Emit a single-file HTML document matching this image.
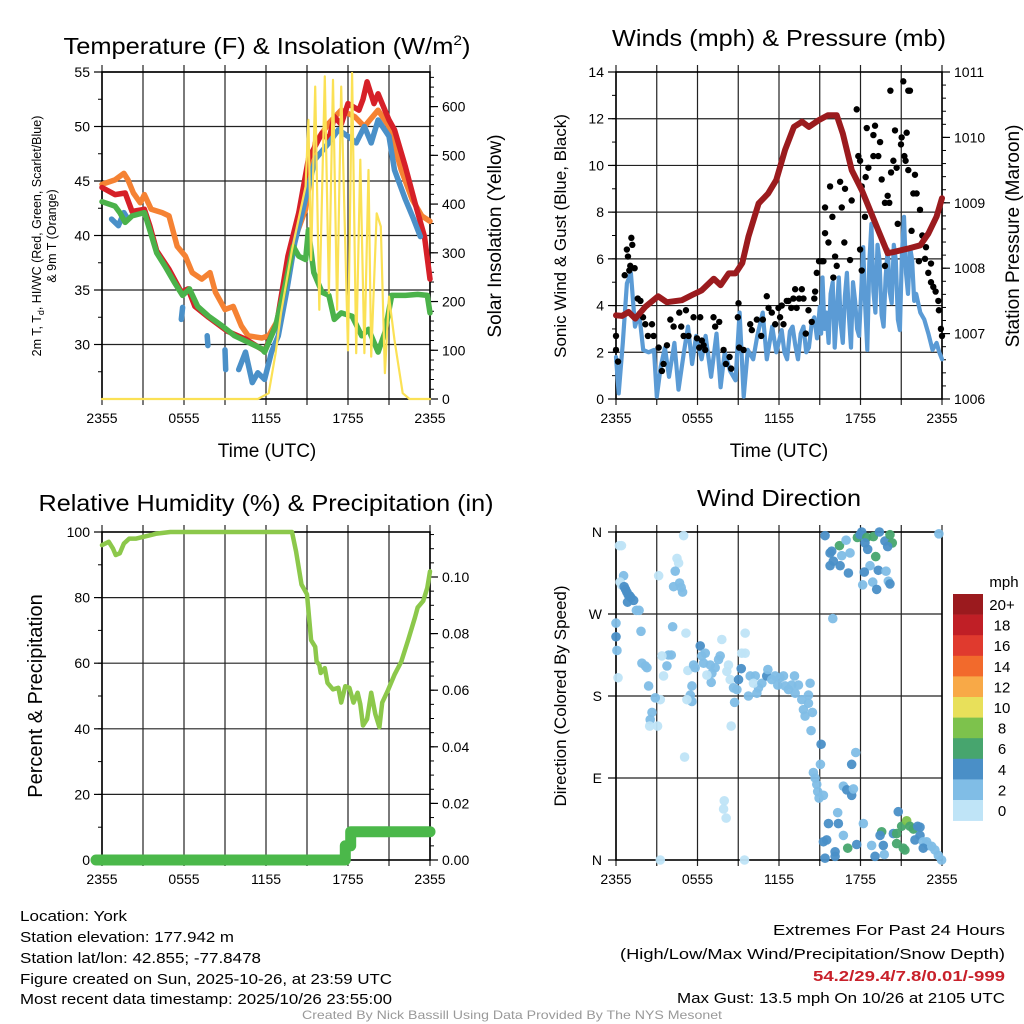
<!DOCTYPE html>
<html><head><meta charset="utf-8"><style>
html,body{margin:0;padding:0;background:#fff;}
svg{display:block;font-family:"Liberation Sans",Arial,sans-serif;}
</style></head><body>
<svg id="fig" width="1024" height="1024" viewBox="0 0 1024 1024" xmlns="http://www.w3.org/2000/svg">
<g id="texts">
<text x="267" y="54" font-size="23" text-anchor="middle" textLength="407" lengthAdjust="spacingAndGlyphs">Temperature (F) &amp; Insolation (W/m<tspan dy="-9" font-size="14">2</tspan><tspan dy="9">)</tspan></text>
<text x="779" y="46" font-size="23" text-anchor="middle" textLength="334" lengthAdjust="spacingAndGlyphs">Winds (mph) &amp; Pressure (mb)</text>
<text x="266" y="511" font-size="23" text-anchor="middle" textLength="455" lengthAdjust="spacingAndGlyphs">Relative Humidity (%) &amp; Precipitation (in)</text>
<text x="779" y="506" font-size="23" text-anchor="middle" textLength="164" lengthAdjust="spacingAndGlyphs">Wind Direction</text>
<text x="267" y="457" font-size="19" text-anchor="middle">Time (UTC)</text>
<text x="779" y="457" font-size="19" text-anchor="middle">Time (UTC)</text>
<text transform="translate(41,236) rotate(-90)" font-size="12.5" text-anchor="middle">2m T, T<tspan dy="3" font-size="9">d</tspan><tspan dy="-3">, HI/WC (Red, Green, Scarlet/Blue)</tspan></text>
<text transform="translate(56,236) rotate(-90)" font-size="12.5" text-anchor="middle">&amp; 9m T (Orange)</text>
<text transform="translate(501,236) rotate(-90)" font-size="19" text-anchor="middle">Solar Insolation (Yellow)</text>
<text transform="translate(566,236) rotate(-90)" font-size="17" text-anchor="middle">Sonic Wind &amp; Gust (Blue, Black)</text>
<text transform="translate(1019,236) rotate(-90)" font-size="19" text-anchor="middle">Station Pressure (Maroon)</text>
<text transform="translate(42,696) rotate(-90)" font-size="20" text-anchor="middle">Percent &amp; Precipitation</text>
<text transform="translate(566,696) rotate(-90)" font-size="17" text-anchor="middle">Direction (Colored By Speed)</text>
<text x="20" y="921" font-size="15" textLength="107" lengthAdjust="spacingAndGlyphs">Location: York</text>
<text x="20" y="942" font-size="15" textLength="214" lengthAdjust="spacingAndGlyphs">Station elevation: 177.942 m</text>
<text x="20" y="963" font-size="15" textLength="241" lengthAdjust="spacingAndGlyphs">Station lat/lon: 42.855; -77.8478</text>
<text x="20" y="984" font-size="15" textLength="372" lengthAdjust="spacingAndGlyphs">Figure created on Sun, 2025-10-26, at 23:59 UTC</text>
<text x="20" y="1004" font-size="15" textLength="372" lengthAdjust="spacingAndGlyphs">Most recent data timestamp: 2025/10/26 23:55:00</text>
<text x="773" y="935" font-size="15" textLength="232" lengthAdjust="spacingAndGlyphs">Extremes For Past 24 Hours</text>
<text x="620" y="959" font-size="15" textLength="385" lengthAdjust="spacingAndGlyphs">(High/Low/Max Wind/Precipitation/Snow Depth)</text>
<text x="813" y="981" font-size="15" font-weight="bold" fill="#c8202a" textLength="192" lengthAdjust="spacingAndGlyphs">54.2/29.4/7.8/0.01/-999</text>
<text x="677" y="1003" font-size="15" textLength="328" lengthAdjust="spacingAndGlyphs">Max Gust: 13.5 mph On 10/26 at 2105 UTC</text>
<text x="302" y="1019" font-size="12" fill="#999" textLength="420" lengthAdjust="spacingAndGlyphs">Created By Nick Bassill Using Data Provided By The NYS Mesonet</text>
</g>
</svg>
<script>
// ---------- DATA ----------
const xTickLabels = ["2355","0555","1155","1755","2355"];
const tempTicks = [30,35,40,45,50,55];
const solarTicks = [0,100,200,300,400,500,600];
const windTicks = [0,2,4,6,8,10,12,14];
const pressureTicks = [1006,1007,1008,1009,1010,1011];
const rhTicks = [0,20,40,60,80,100];
const precipTicks = [0.00,0.02,0.04,0.06,0.08,0.10];
const dirTickLabels = ["N","E","S","W","N"];
const dirTicks = [0,90,180,270,360];
const speedBinLabels = ["0","2","4","6","8","10","12","14","16","18","20+"];
const speedBinColors = ["#bfe4f7","#80bde6","#4a8fc7","#47a56e","#7dc24c","#e8e05a","#f8a947","#f26a2c","#e03a2e","#c01f26","#9b1a1e"];

// [hour since 2355, value]
const tempRed = [[0,44.4],[0.95,43.75],[1.7,43.9],[2.2,42.2],[3.1,42.4],[3.5,40.9],[4,38.6],[4.9,36.9],[5.8,34.8],[6.3,35.1],[6.8,33.5],[7.8,32.5],[9.2,31.2],[10.5,30.5],[11.9,29.4],[12.8,32],[13.6,38.1],[14.4,42.1],[15.1,47],[15.6,48.2],[16.1,49.4],[16.6,48.8],[17,50.9],[17.5,50.2],[18,52.1],[18.8,51.5],[19.1,52.5],[19.4,54.1],[19.9,52.1],[20.2,53],[21,50.6],[21.4,49.7],[22.2,46.3],[22.9,43],[23.6,39.9],[24,36]];
const tempOrange = [[0,44.7],[0.95,45.1],[1.6,45.7],[1.9,45.1],[2.3,43.9],[2.8,43],[3.1,43.75],[3.6,42.4],[4.4,42.1],[4.9,41.8],[5.5,39],[6.1,38.1],[6.6,36.6],[7.3,36],[7.9,36.6],[8.3,34.8],[9,33.2],[9.6,33.5],[10.2,31.7],[10.7,30.8],[11.7,30.6],[12.2,30.8],[12.9,32.3],[13.9,39],[14.9,42.4],[15.6,48.5],[16.6,50.3],[17.5,51.5],[18.5,50.9],[19.2,50],[20.2,51.5],[21,50],[21.9,46],[22.7,43.3],[23.4,41.8],[24,41.3]];
const tempGreen = [[0,43.1],[0.95,42.7],[1.3,42.1],[1.7,41.2],[2.2,41.8],[3.1,42.1],[3.5,40.5],[4,38.4],[4.6,37.2],[5.3,35.7],[5.9,34.5],[6.4,35.1],[7,33.5],[7.8,32.6],[8.8,31.7],[9.7,30.8],[10.7,30.2],[11.7,29.6],[11.9,29.3],[12.7,31.7],[13.4,35.4],[14,39],[14.4,38.1],[14.9,37.8],[15.1,40.5],[15.5,36.6],[16.1,34.8],[16.6,34.5],[17,32.3],[17.5,32.9],[18.3,32.6],[19,30.8],[19.5,31.4],[20.2,29.3],[20.7,31.1],[21.2,34.5],[22.2,34.5],[23.1,34.6],[23.8,34.5],[24,32.9]];
const tempBlueSegments = [
 [[0.7,41.5],[1.2,40.9],[1.6,42.1],[1.9,41.5]],
 [[5.8,32.3],[5.9,33.4]],
 [[7.7,30.8],[7.75,29.9]],
 [[9,29.5],[9.05,27.7]],
 [[10,27.7],[10.5,29.3],[11,26.5],[11.4,27.4],[11.9,26.8],[12.4,29.3],[12.9,30.8],[13.5,34.8],[14.1,39.3],[15,43.9],[15.6,47],[16.6,48.5],[17.3,49.7],[18,49.1],[18.6,48.5],[19.2,50],[19.7,48.5],[20.2,50.6],[21,49.1],[21.4,46],[22.2,43.3],[22.8,41.5],[23.3,39.9]]
];
const solar = [[0,0],[11.4,0],[12.2,12],[12.7,94],[13.1,176],[13.9,306],[14.9,436],[15.1,573],[15.3,285],[15.6,641],[15.9,183],[16.3,662],[16.6,217],[16.9,655],[17.2,183],[17.5,641],[18,100],[18.3,669],[18.6,94],[18.9,491],[19.2,94],[19.5,470],[19.7,87],[20.1,381],[20.4,354],[20.7,53],[21,210],[21.4,121],[22,12],[22.5,0],[24,0]];

const windSpeed = [[0,1.8],[0.2,0.24],[0.5,2.4],[0.8,4.95],[1.1,5.4],[1.4,3.1],[1.7,3.7],[2,2.1],[2.4,2.0],[2.8,2.1],[3.0,0.1],[3.3,1.4],[3.6,2.2],[3.9,0.95],[4.3,2.4],[4.6,0.4],[5,2],[5.3,3.1],[5.6,1.5],[5.9,2.7],[6.3,1.7],[6.6,2.7],[7,0.95],[7.4,2.8],[7.7,0.5],[8,2],[8.4,1.2],[8.8,0.8],[9.1,3.7],[9.4,0.1],[9.7,2.1],[10.1,1.7],[10.4,2.7],[10.8,3.7],[11.1,1.7],[11.5,3.1],[11.8,2],[12.2,2.95],[12.4,2.0],[12.6,1.7],[12.8,2.9],[13,3.1],[13.2,2.3],[13.4,1.7],[13.6,2.8],[13.8,3.1],[14,2.0],[14.2,2.2],[14.4,3.2],[14.6,3.5],[14.8,2.6],[15,3.95],[15.1,2.8],[15.2,5.2],[15.35,3.0],[15.5,3.7],[15.65,2.4],[15.8,4.5],[15.95,5.0],[16.1,2.2],[16.25,3.6],[16.4,5.2],[16.55,3.2],[16.7,2.4],[16.85,4.4],[17,5.4],[17.15,3.5],[17.3,2.2],[17.45,5.0],[17.6,4.2],[17.75,3.0],[17.9,2.7],[18.05,4.6],[18.2,6.5],[18.35,3.9],[18.5,2.1],[18.65,5.8],[18.8,7.5],[18.95,4.6],[19.1,3.7],[19.25,6.6],[19.4,5.95],[19.55,3.6],[19.7,3.1],[19.85,5.2],[20,6.4],[20.15,4.6],[20.3,4.1],[20.45,6.6],[20.6,5.95],[20.75,3.4],[20.9,2.95],[21.05,6.2],[21.2,7.8],[21.35,5.4],[21.5,4.5],[21.65,6.5],[21.8,5.95],[21.95,4.2],[22.1,4.5],[22.4,3.7],[22.7,3.4],[23,2.8],[23.3,2.1],[23.6,2.4],[23.8,2],[24,1.7]];
const windGust = [[0,2.7],[0,2.1],[0.15,1.6],[0.64,5.3],[0.8,6.4],[0.88,6.1],[0.98,5.5],[1.13,6.9],[1.2,6.6],[1.05,5.7],[1.37,5.6],[1.6,4.3],[1.8,4.2],[1.99,3.5],[2.16,3.2],[2.35,2.7],[2.65,3.2],[2.77,2.7],[3.14,2.2],[3.38,1.2],[3.5,1.5],[3.75,2.3],[4,3.4],[4.24,3.1],[4.66,3.7],[4.8,3.1],[4.98,2.7],[5.15,3.8],[5.34,2.7],[5.71,3.5],[5.96,2.6],[6.2,3.5],[6.32,2.5],[6.13,2.2],[6.45,2.3],[6.57,2.1],[7.18,3.5],[7.3,3.1],[7.6,3.3],[7.92,2.1],[8.09,1.5],[8.36,1.8],[8.48,1.3],[9.02,4.1],[8.97,3.5],[9.07,2.2],[9.39,2.1],[9.88,3.2],[10,2.95],[10.37,3.4],[10.69,2.7],[10.81,3.4],[11.1,4.4],[11.23,3.9],[11.47,3.7],[11.72,3.2],[11.96,3.9],[12.08,3.5],[12.2,4.0],[12.33,3.2],[12.57,4.2],[12.7,4.2],[12.9,3.9],[13.06,4.3],[13.19,4.7],[13.3,3.9],[13.48,4.3],[13.68,4.7],[13.8,4.3],[13.97,2.8],[14.17,3.8],[14.41,3.3],[14.6,4.3],[14.66,4.6],[14.78,5.4],[14.95,5.9],[15.15,5.9],[15.27,5.9],[15.39,8.2],[15.76,9.1],[15.93,7.8],[15.39,7.1],[15.64,6.7],[16.5,9.3],[16.62,8.2],[16.86,9.0],[17.35,8.5],[16.81,6.7],[16.13,6.1],[16.25,5.7],[16.0,5.2],[17.23,5.95],[17.72,12.4],[17.84,10.4],[17.97,10.2],[18.46,11.6],[18.58,9.9],[18.38,9.5],[18.09,9.1],[19.07,11.7],[18.95,11.3],[19.44,11.0],[18.95,10.4],[19.31,10.4],[19.56,9.4],[19.8,8.4],[20.12,8.4],[20.0,8.7],[18.33,7.8],[17.97,6.4],[18.09,5.5],[19.8,5.7],[20.2,13.2],[20.54,11.5],[20.42,10.2],[20.25,9.7],[20.66,9.9],[21.15,13.6],[21.52,13.2],[21.64,13.2],[21.4,11.4],[20.98,10.9],[21.03,11.2],[21.23,10.4],[21.32,10.2],[21.52,9.8],[22.01,9.6],[21.89,8.8],[22.13,8.8],[22.38,8.1],[20.74,7.5],[21.76,7.2],[22.55,7.0],[22.82,6.5],[22.75,6.0],[23.19,5.8],[22.3,5.9],[22.99,5.4],[23.19,5.0],[23.36,4.8],[23.53,4.6],[23.73,4.2],[23.77,3.8],[23.92,3.0],[24,2.7]];
const pressure = [[0,1007.28],[0.44,1007.27],[0.93,1007.33],[1.42,1007.23],[2.16,1007.41],[3.1,1007.57],[3.75,1007.48],[4.85,1007.51],[5.6,1007.59],[6.3,1007.66],[7.2,1007.84],[7.7,1007.74],[8.3,1007.92],[8.8,1007.92],[9.3,1008.08],[9.75,1008.48],[10.5,1008.99],[11.2,1009.14],[11.8,1009.35],[12.45,1009.81],[13.1,1010.16],[13.7,1010.24],[14.2,1010.16],[14.9,1010.26],[15.6,1010.34],[16.25,1010.34],[16.7,1010.06],[17.35,1009.5],[18.1,1009.19],[18.6,1008.94],[19.3,1008.58],[20,1008.23],[20.5,1008.25],[21.5,1008.3],[22.4,1008.35],[23,1008.53],[23.6,1008.79],[24,1009.07]];

const rh = [[0,96],[0.5,97],[0.8,95],[1.0,93],[1.3,93.5],[1.6,96.5],[2,98],[2.5,98],[3,98.5],[3.5,99],[4,99.5],[5,100],[13.9,100],[14.2,94],[14.6,84],[15.0,81],[15.3,67],[15.6,65],[15.7,60.5],[15.9,59.5],[16.0,57],[16.3,58.5],[16.5,54],[16.9,52],[17.3,52.5],[17.5,48],[17.8,53],[18.1,52.5],[18.4,48],[18.7,51],[18.9,47.5],[19.1,41],[19.4,43],[19.7,51],[20.0,44.5],[20.3,40.5],[20.5,48],[20.9,51.5],[21.4,56.5],[21.9,60.5],[22.4,67],[22.9,74],[23.1,77],[23.5,79],[23.8,83],[24,88]];
const precip = [[-0.5,0],[17.8,0],[17.8,0.005],[18.2,0.005],[18.2,0.01],[24,0.01]];

// [hour, direction deg, speed bin]
const windDir = [[0.25,345,0],[0.4,345,0],[0.56,312,1],[0.3,305,0],[0.4,302,0],[0.6,300,2],[0.7,297,2],[0.8,294,2],[0.9,291,2],[1.0,290,2],[1.1,288,2],[1.3,285,2],[0.85,283,2],[1.5,274,1],[1.7,274,1],[1.84,251,1],[0,260,1],[-0.05,245,2],[0.07,230,1],[0.15,200,0],[1.91,216,1],[2.16,213,1],[2.28,211,1],[2.4,191,1],[2.65,162,1],[2.52,154,1],[2.48,147,0],[3.06,147,0],[3.26,176,0],[2.89,178,1],[3.26,0,0],[3.14,312,0],[4.98,356,0],[4.49,331,0],[4.61,326,0],[4.36,317,1],[4.24,300,1],[4.68,304,1],[4.8,299,1],[4.9,294,1],[4.17,256,1],[5.15,249,0],[3.87,225,1],[4.07,225,1],[3.75,213,1],[3.5,202,0],[3.38,224,0],[5.29,208,0],[5.71,214,1],[5.59,191,1],[5.47,181,1],[5.59,174,1],[5.22,176,0],[5.83,211,1],[6.2,235,2],[6.32,224,1],[6.57,227,1],[6.45,216,1],[6.94,214,1],[7.06,205,1],[7.3,211,1],[7.55,220,1],[7.67,224,1],[7.79,242,0],[7.01,195,1],[6.69,203,0],[8.16,207,0],[8.28,214,0],[8.41,198,0],[8.65,189,1],[8.73,173,1],[8.48,147,0],[9.26,227,0],[9.51,227,0],[9.51,249,0],[9.22,210,2],[9.02,198,2],[8.9,187,1],[9.75,180,1],[9.88,202,1],[10.25,202,1],[10.37,183,1],[10.49,189,1],[10.12,194,0],[10.74,194,1],[11.1,202,2],[11.18,209,1],[11.47,198,1],[11.72,202,1],[11.91,192,1],[12.08,200,1],[12.33,202,1],[12.45,191,1],[12.7,187,1],[12.94,192,1],[13.14,202,1],[13.19,183,1],[13.43,192,1],[13.68,176,1],[13.8,165,1],[13.92,158,1],[14.17,181,1],[14.29,194,1],[14.17,172,1],[14.46,162,1],[14.36,142,1],[15.1,127,2],[15.05,105,1],[14.53,96,1],[14.66,90,1],[14.78,83,1],[14.85,75,1],[14.95,68,1],[15.27,71,1],[17.65,118,1],[17.35,105,2],[16.74,81,1],[16.99,77,2],[17.35,71,2],[17.48,78,1],[16.32,52,1],[15.64,40,2],[16.37,40,2],[18.21,40,1],[16.74,27,1],[15.27,20,2],[15.51,22,2],[17.72,17,2],[17.06,13,3],[16.13,9,2],[15.39,2,2],[16.13,4,2],[19.07,4,2],[19.56,31,3],[19.44,27,2],[18.82,16,1],[19.68,16,2],[19.75,6,1],[20.78,53,2],[20.42,29,2],[20.66,29,3],[21.03,37,3],[21.4,43,4],[21.64,37,3],[21.89,34,3],[22.21,37,2],[22.38,36,2],[20.66,18,3],[21.15,13,3],[21.27,11,3],[22.01,22,2],[22.38,27,2],[22.62,20,1],[22.87,20,1],[22.99,16,1],[22.62,13,2],[23.24,15,1],[23.48,11,1],[23.73,5,1],[23.97,0,1],[15.39,356,2],[15.76,337,2],[15.88,339,2],[16.0,328,2],[15.76,323,2],[16.5,323,2],[16.45,345,3],[16.62,334,1],[16.94,351,1],[17.23,337,1],[17.11,315,2],[17.77,354,3],[17.97,357,2],[18.09,360,2],[18.46,354,3],[18.95,355,3],[18.33,348,2],[18.53,341,2],[19.12,333,3],[19.39,360,2],[19.8,350,2],[20.17,357,3],[20.34,348,3],[20.0,344,2],[18.7,323,1],[19.31,318,2],[18.28,316,2],[19.88,317,1],[18.9,305,1],[20.05,306,1],[20.17,303,2],[18.16,302,1],[19.19,297,2],[15.96,265,1],[23.77,358,1],[9.46,0,0],[7.97,65,0],[7.92,56,0],[8.11,46,0],[5.05,113,0]];

// ---------- DRAWING ----------
const NS = "http://www.w3.org/2000/svg";
const svg = document.getElementById('fig');
function mk(tag, attrs, parent){const e=document.createElementNS(NS,tag);for(const k in attrs)e.setAttribute(k,attrs[k]);(parent||svg).appendChild(e);return e;}
function grp(name){const g=mk('g',{});


return g;}

const P1={x0:102,x1:430,y0:72,y1:399};
const P2={x0:616,x1:942,y0:72,y1:399};
const P3={x0:102,x1:430,y0:532,y1:860};
const P4={x0:616,x1:942,y0:532,y1:860};
function xs(p,h){return p.x0+h/24*(p.x1-p.x0);}
function ysc(p,lo,hi){return v=>p.y1-(v-lo)/(hi-lo)*(p.y1-p.y0);}

const yT=ysc(P1,25,55), yS=ysc(P1,0,671);
const yW=ysc(P2,0,14), yP=ysc(P2,1006,1011);
const yR=ysc(P3,0,100), yPr=ysc(P3,0,0.1159);
const yD=ysc(P4,0,360);

function frame(p,name,hGrid,ys){
  const g=grp(name);
  for(let i=0;i<=8;i++){const x=xs(p,i*3);
    const l=mk('line',{x1:x,x2:x,y1:p.y0-7,y2:p.y1+6,stroke:'#222','stroke-width':1.2},g);
    
    }
  hGrid.forEach(v=>{const y=ys(v);
    const l=mk('line',{x1:p.x0,x2:p.x1,y1:y,y2:y,stroke:'#222','stroke-width':1.2},g);
    
    });
  const r=mk('rect',{x:p.x0,y:p.y0,width:p.x1-p.x0,height:p.y1-p.y0,fill:'none',stroke:'#000','stroke-width':1.6},g);
  
  
  xTickLabels.forEach((t,i)=>{const tx=mk('text',{x:xs(p,i*6),y:p.y1+24,'font-size':14,'text-anchor':'middle'},g);tx.textContent=t;
    
    });
  return g;
}
function yAxis(p,side,ticks,minor,ys,fmt,name){
  const g=grp(name);
  const x=side==='L'?p.x0:p.x1, d=side==='L'?-1:1;
  minor.forEach(v=>{const y=ys(v);mk('line',{x1:x,x2:x+d*4,y1:y,y2:y,stroke:'#000','stroke-width':1},g);});
  ticks.forEach(v=>{const y=ys(v);mk('line',{x1:x,x2:x+d*8,y1:y,y2:y,stroke:'#000','stroke-width':1.2},g);
    const t=mk('text',{x:x+d*12,y:y+5,'font-size':14,'text-anchor':side==='L'?'end':'start'},g);t.textContent=fmt(v);
    
    });
}
function range(a,b,s){const r=[];for(let v=a;v<=b+1e-9;v+=s)r.push(+v.toFixed(4));return r;}
function pline(p,data,ys,color,w,name,parent){
  const pts=data.map(d=>xs(p,Math.max(0,d[0])).toFixed(1)+','+ys(d[1]).toFixed(1)).join(' ');
  const e=mk('polyline',{points:pts,fill:'none',stroke:color,'stroke-width':w,'stroke-linejoin':'round','stroke-linecap':'round'},parent);
  
  
  return e;
}

// Panel 1
frame(P1,'temperature-panel',tempTicks,yT);
yAxis(P1,'L',tempTicks,range(27.5,55,2.5),yT,v=>v,'temp-left-axis');
yAxis(P1,'R',solarTicks,range(0,660,20),yS,v=>v,'solar-right-axis');
const s1=grp('temperature-series');
pline(P1,tempOrange,yT,'#f58233',5.5,'nine-m-temp-line',s1);
pline(P1,tempRed,yT,'#d62028',5.5,'two-m-temp-line',s1);
tempBlueSegments.forEach(seg=>{pline(P1,seg,yT,'#4a90c8',5.5,'heat-index-windchill-line',s1);});
pline(P1,tempGreen,yT,'#4bb24a',5.5,'dewpoint-line',s1);
pline(P1,solar,yS,'#fbe155',2.2,'solar-insolation-line',s1);

// Panel 2
frame(P2,'winds-panel',range(2,12,2),yW);
yAxis(P2,'L',windTicks,range(1,13,1),yW,v=>v,'wind-left-axis');
yAxis(P2,'R',pressureTicks,range(1006,1011,0.2),yP,v=>v,'pressure-right-axis');
const s2=grp('wind-series');
pline(P2,windSpeed,yW,'#5b9bd5',4.2,'sonic-wind-line',s2);
windGust.forEach(d=>{const c=mk('circle',{cx:xs(P2,d[0]),cy:yW(d[1]),r:3.2,fill:'#000'},s2);
  
  });
pline(P2,pressure,yP,'#9b1b1e',6,'pressure-line',s2);

// Panel 3
frame(P3,'humidity-panel',[20,40,60,80],yR);
yAxis(P3,'L',rhTicks,range(10,90,10),yR,v=>v,'rh-left-axis');
yAxis(P3,'R',precipTicks,range(0,0.115,0.005),yPr,v=>v.toFixed(2),'precip-right-axis');
const s3=grp('humidity-series');
pline(P3,rh,yR,'#8cc84b',4.5,'relative-humidity-line',s3);
const pe=mk('polyline',{points:precip.map(d=>(d[0]<0?P3.x0-6:xs(P3,d[0])).toFixed(1)+','+yPr(d[1]).toFixed(1)).join(' '),fill:'none',stroke:'#4bb84a','stroke-width':11,'stroke-linecap':'round','stroke-linejoin':'round'},s3);



// Panel 4
frame(P4,'wind-direction-panel',[90,180,270],yD);
(function(){const g=grp('direction-left-axis');
  dirTicks.forEach((v,i)=>{const y=yD(v);mk('line',{x1:P4.x0,x2:P4.x0-8,y1:y,y2:y,stroke:'#000','stroke-width':1.2},g);
    const t=mk('text',{x:P4.x0-14,y:y+5,'font-size':14,'text-anchor':'end'},g);t.textContent=dirTickLabels[i];
    
    });})();
const s4=grp('direction-points');
windDir.forEach(d=>{const c=mk('circle',{cx:xs(P4,Math.max(0,d[0])),cy:yD(d[1]),r:4.8,fill:speedBinColors[d[2]],'fill-opacity':0.95},s4);
  
  });

// Colorbar
const cb=grp('speed-colorbar');
const cbTop=594, cbH=20.6;
speedBinColors.slice().reverse().forEach((c,i)=>{const r=mk('rect',{x:953,y:cbTop+i*cbH,width:30,height:cbH+0.3,fill:c},cb);
  
  });
speedBinLabels.slice().reverse().forEach((l,i)=>{const t=mk('text',{x:1002,y:cbTop+i*cbH+16,'font-size':15,'text-anchor':'middle'},cb);t.textContent=l;
  
  });
const mph=mk('text',{x:1004,y:587,'font-size':15,'text-anchor':'middle'},cb);mph.textContent='mph';


</script>
</body></html>
